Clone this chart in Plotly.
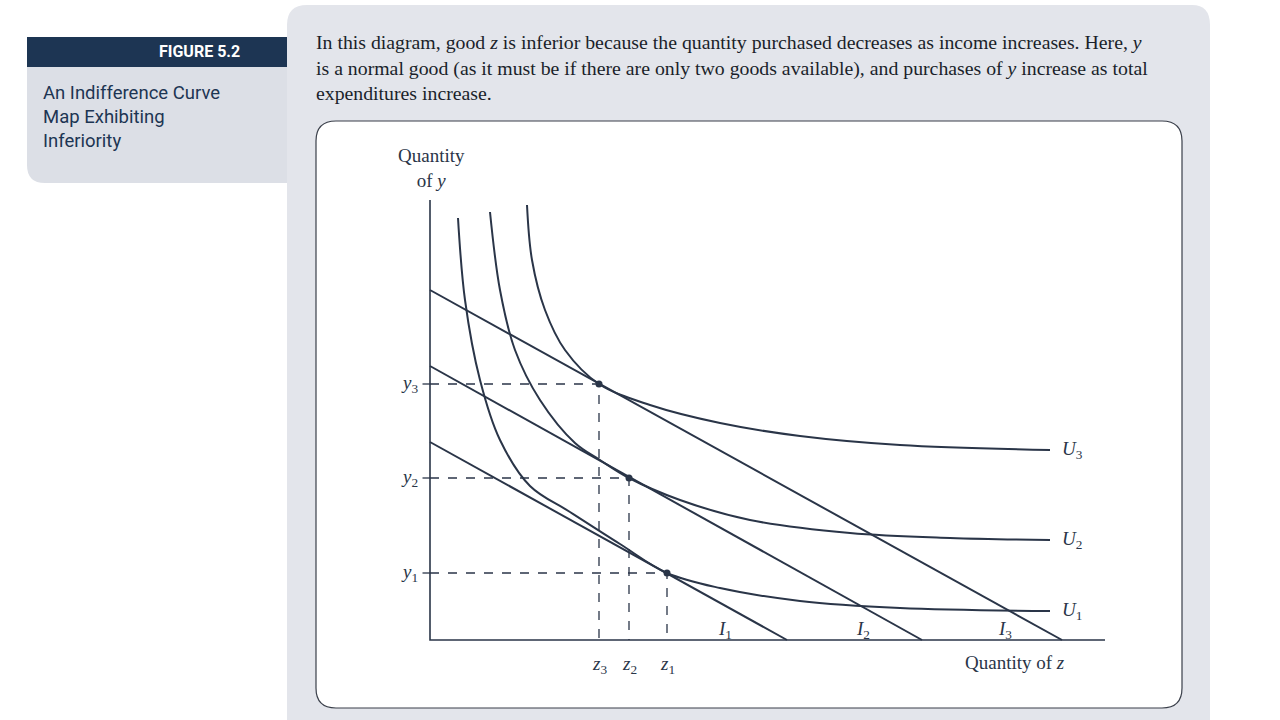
import plotly.graph_objects as go

# economic units: quantity of z (x) and quantity of y (y)
u1_z = [0.56, 0.70, 1.00, 1.40, 2.00, 2.80, 3.80, 4.74, 5.80, 7.40, 9.40, 12.40]
u1_y = [8.44, 6.80, 5.20, 4.00, 3.08, 2.56, 1.92, 1.34, 1.04, 0.78, 0.64, 0.58]
u2_z = [1.20, 1.40, 1.70, 2.20, 2.90, 3.40, 3.98, 5.00, 6.40, 8.40, 10.40, 12.40]
u2_y = [8.56, 7.00, 5.80, 4.80, 3.94, 3.60, 3.24, 2.80, 2.40, 2.14, 2.04, 2.00]
u3_z = [1.94, 2.04, 2.30, 2.70, 3.38, 4.40, 5.80, 7.40, 9.40, 12.40]
u3_y = [8.70, 7.60, 6.60, 5.80, 5.12, 4.70, 4.34, 4.08, 3.90, 3.80]

budget_y = [3.96, 5.48, 7.00]      # y-intercepts of I1, I2, I3
budget_z = [7.14, 9.84, 12.64]     # z-intercepts
opt_z = [4.74, 3.98, 3.38]         # z1, z2, z3
opt_y = [1.34, 3.24, 5.12]         # y1, y2, y3
curve_labels = ["<i>U</i><sub>1</sub>", "<i>U</i><sub>2</sub>", "<i>U</i><sub>3</sub>"]
budget_labels = ["<i>I</i><sub>1</sub>", "<i>I</i><sub>2</sub>", "<i>I</i><sub>3</sub>"]
z_labels = ["<i>z</i><sub>1</sub>", "<i>z</i><sub>2</sub>", "<i>z</i><sub>3</sub>"]
y_labels = ["<i>y</i><sub>1</sub>", "<i>y</i><sub>2</sub>", "<i>y</i><sub>3</sub>"]

S = 50  # pixels per unit
X0, Y0 = 430, 640  # origin in pixels
INK = "#2a3548"
SERIF = "Liberation Serif"

fig = go.Figure()

# panels (pixel placement via paper coords)
def px(x): return x / 1280
def py(y): return 1 - y / 720

fig.add_shape(type="path", xref="paper", yref="paper", layer="below",
              path=f"M {px(307)},{py(5)} L {px(1192)},{py(5)} Q {px(1210)},{py(5)} {px(1210)},{py(25)} "
                   f"L {px(1210)},{py(720)} L {px(287)},{py(720)} L {px(287)},{py(25)} Q {px(287)},{py(5)} {px(307)},{py(5)} Z",
              fillcolor="#e3e5eb", line=dict(width=0))
fig.add_shape(type="path", xref="paper", yref="paper", layer="below",
              path=f"M {px(336)},{py(121)} L {px(1162)},{py(121)} Q {px(1182)},{py(121)} {px(1182)},{py(141)} "
                   f"L {px(1182)},{py(688)} Q {px(1182)},{py(708)} {px(1162)},{py(708)} L {px(336)},{py(708)} "
                   f"Q {px(316)},{py(708)} {px(316)},{py(688)} L {px(316)},{py(141)} Q {px(316)},{py(121)} {px(336)},{py(121)} Z",
              fillcolor="white", line=dict(color="#3a3f4a", width=1.2))
fig.add_shape(type="path", xref="paper", yref="paper", layer="below",
              path=f"M {px(27)},{py(67)} L {px(287)},{py(67)} L {px(287)},{py(183)} L {px(45)},{py(183)} "
                   f"Q {px(27)},{py(183)} {px(27)},{py(165)} Z",
              fillcolor="#dcdfe6", line=dict(width=0))
fig.add_shape(type="rect", xref="paper", yref="paper", x0=px(27), x1=px(287), y0=py(37), y1=py(67),
              fillcolor="#1d3553", line=dict(width=0))

fig.add_annotation(xref="paper", yref="paper", x=px(157), y=py(52), yanchor="middle", text="<b>FIGURE 5.2</b>",
                   showarrow=False, font=dict(family="Roboto", size=16, color="white"))
fig.add_annotation(xref="paper", yref="paper", x=px(41), y=py(80), xanchor="left", yanchor="top", align="left",
                   text="An Indifference Curve<br>Map Exhibiting<br>Inferiority", showarrow=False,
                   font=dict(family="Roboto", size=18.5, color="#1d3553"))
fig.add_annotation(xref="paper", yref="paper", x=px(314), y=py(29), xanchor="left", yanchor="top", align="left",
                   text="In this diagram, good <i>z</i> is inferior because the quantity purchased decreases as income increases. Here, <i>y</i><br>"
                        "is a normal good (as it must be if there are only two goods available), and purchases of <i>y</i> increase as total<br>"
                        "expenditures increase.", showarrow=False,
                   font=dict(family=SERIF, size=19.8, color="#1a1f2a"))

# dashed guides
for z, y in zip(opt_z, opt_y):
    fig.add_trace(go.Scatter(x=[0, z, z], y=[y, y, 0], mode="lines",
                             line=dict(color=INK, width=1.3, dash="dash")))

# budget lines
for yi, zi in zip(budget_y, budget_z):
    fig.add_trace(go.Scatter(x=[0, zi], y=[yi, 0], mode="lines", line=dict(color=INK, width=2)))

# indifference curves
for cz, cy, lab in zip([u1_z, u2_z, u3_z], [u1_y, u2_y, u3_y], curve_labels):
    fig.add_trace(go.Scatter(x=cz, y=cy, mode="lines", line=dict(color=INK, width=2, shape="spline")))
    fig.add_annotation(x=cz[-1] + 0.2, y=cy[-1], text=lab, xanchor="left", showarrow=False,
                       font=dict(family=SERIF, size=19, color=INK))

fig.add_trace(go.Scatter(x=opt_z, y=opt_y, mode="markers", marker=dict(color=INK, size=7)))

# axes
fig.add_trace(go.Scatter(x=[0, 0, 13.5], y=[8.8, 0, 0], mode="lines", line=dict(color=INK, width=1.6)))
for y, lab in zip(opt_y, y_labels):
    fig.add_annotation(x=-0.2, y=y, text=lab, xanchor="right", showarrow=False,
                       font=dict(family=SERIF, size=19, color=INK))
    fig.add_trace(go.Scatter(x=[-0.15, 0], y=[y, y], mode="lines", line=dict(color=INK, width=1.3)))
for z, lab in zip(opt_z, z_labels):
    fig.add_annotation(x=z, y=-0.5, text=lab, showarrow=False,
                       font=dict(family=SERIF, size=19, color=INK))
for zi, lab in zip([5.9, 8.65, 11.5], budget_labels):
    fig.add_annotation(x=zi, y=0.2, text=lab, showarrow=False, font=dict(family=SERIF, size=19, color=INK))

fig.add_annotation(x=11.7, y=-0.45, text="Quantity of <i>z</i>", showarrow=False,
                   font=dict(family=SERIF, size=19, color=INK))
fig.add_annotation(x=0.02, y=9.45, text="Quantity<br>of <i>y</i>", showarrow=False,
                   font=dict(family=SERIF, size=19, color=INK))

fig.update_xaxes(range=[-X0 / S, (1280 - X0) / S], visible=False)
fig.update_yaxes(range=[(Y0 - 720) / S, Y0 / S], visible=False)
fig.update_layout(width=1280, height=720, margin=dict(l=0, r=0, t=0, b=0), showlegend=False,
                  paper_bgcolor="white", plot_bgcolor="rgba(0,0,0,0)")
fig.write_html("out.html", config={"displayModeBar": False},
               post_script="document.body.style.margin='0';")
